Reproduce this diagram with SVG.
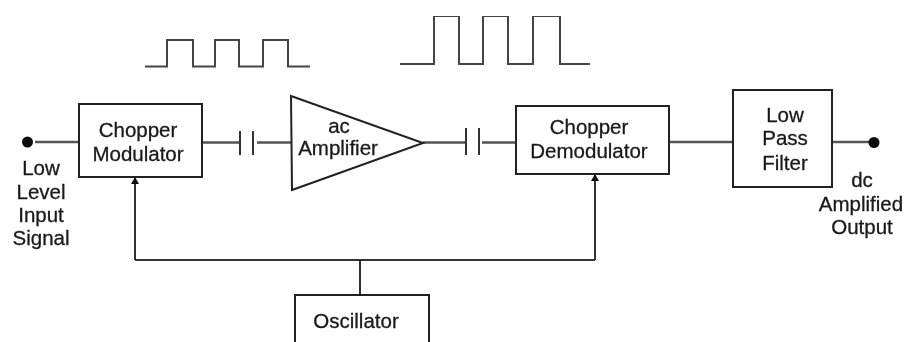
<svg xmlns="http://www.w3.org/2000/svg" width="906" height="342" viewBox="0 0 906 342">
<style>
.b{fill:#fff;stroke:#222;stroke-width:2}
.l{fill:none;stroke:#333;stroke-width:2}
.g{fill:none;stroke:#555;stroke-width:2.400}
.w{fill:none;stroke:#444;stroke-width:2}
.d{fill:#111}
text{font-family:"Liberation Sans",Arial,sans-serif;font-size:20.500px;fill:#1a1a1a;text-anchor:middle;stroke:#1a1a1a;stroke-width:.3px}
</style>
<defs>
<marker id="a" markerWidth="7" markerHeight="9" refX="6" refY="4" orient="auto" markerUnits="userSpaceOnUse"><path d="M0 0L7 4L0 8Z" fill="#111"/></marker>
<filter id="soft" x="0" y="0" width="100%" height="100%"><feGaussianBlur stdDeviation="0.6"/></filter>
</defs>
<rect width="906" height="342" fill="#fff"/>
<g filter="url(#soft)">
<g id="connectors">
<path class="g" d="M35 142H79"/>
<path class="g" d="M202 142.500H240M257 142.500H291"/>
<path class="l" d="M240 131V155M253 131V155"/>
<path class="g" d="M423 142.500H466M482 142.500H516"/>
<path class="l" d="M466 128V155M479 128V155"/>
<path class="g" d="M669 142H733"/>
<path class="g" d="M832 142H870"/>
<path class="l" d="M135 260V178" marker-end="url(#a)"/>
<path class="l" d="M135 260H595"/>
<path class="l" d="M595 260V175" marker-end="url(#a)"/>
<path class="l" d="M360 260V295"/>
</g>
<g id="waveform-1"><path class="w" d="M145 66.500H167V40H193V66.500H215V40H239V66.500H263V40H288V66.500H310"/></g>
<g id="waveform-2"><path class="w" d="M400 64H434V16H459V64H483V16H508V64H533V16H560V64H590"/></g>
<g id="input"><circle class="d" cx="27.500" cy="142" r="5.500"/><text x="41" y="175">Low</text><text x="41" y="199">Level</text><text x="41" y="222">Input</text><text x="41" y="245">Signal</text></g>
<g id="chopper-modulator"><rect class="b" x="79" y="104" width="123" height="73"/><text x="138" y="137">Chopper</text><text x="138" y="161">Modulator</text></g>
<g id="ac-amplifier"><path class="b" d="M291 96L423 143L292 190Z"/><text x="339" y="133">ac</text><text x="338" y="155">Amplifier</text></g>
<g id="chopper-demodulator"><rect class="b" x="516" y="106" width="153" height="68"/><text x="589" y="134">Chopper</text><text x="589" y="158">Demodulator</text></g>
<g id="low-pass-filter"><rect class="b" x="733" y="90" width="99" height="97"/><text x="785" y="122">Low</text><text x="785" y="145">Pass</text><text x="785" y="170">Filter</text></g>
<g id="output"><circle class="d" cx="874" cy="142.500" r="5.500"/><text x="862" y="187">dc</text><text x="861" y="211">Amplified</text><text x="862" y="234">Output</text></g>
<g id="oscillator"><rect class="b" x="295" y="295" width="134" height="60"/><text x="356" y="328">Oscillator</text></g>
</g>
</svg>
